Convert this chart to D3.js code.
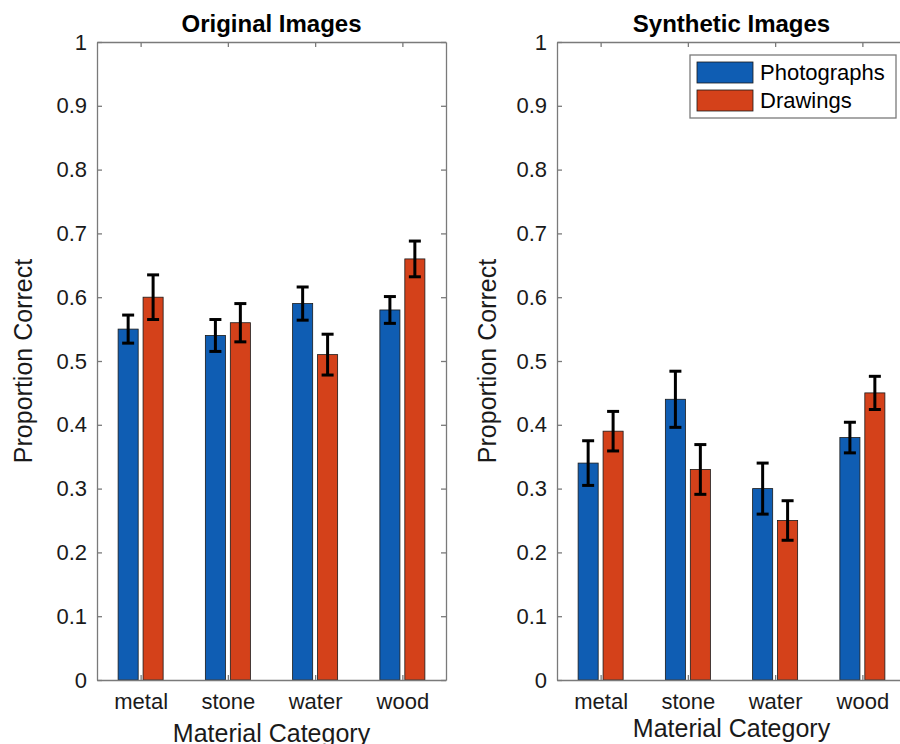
<!DOCTYPE html>
<html>
<head>
<meta charset="utf-8">
<script src="https://cdn.jsdelivr.net/npm/d3@7"></script>
<style>
  body { margin: 0; background: #fff; }
  svg { display: block; font-family: "Liberation Sans", Arial, sans-serif; }
</style>
</head>
<body>
<script>
// data
var categories = ["metal", "stone", "water", "wood"];
var seriesNames = ["Photographs", "Drawings"];
var yTicks = [0, 0.1, 0.2, 0.3, 0.4, 0.5, 0.6, 0.7, 0.8, 0.9, 1];

// Original Images
var origPhoto = [0.55, 0.54, 0.59, 0.58];
var origPhotoErr = [0.022, 0.025, 0.026, 0.021];
var origDraw = [0.60, 0.56, 0.51, 0.66];
var origDrawErr = [0.035, 0.030, 0.032, 0.028];

// Synthetic Images
var synPhoto = [0.34, 0.44, 0.30, 0.38];
var synPhotoErr = [0.035, 0.044, 0.040, 0.024];
var synDraw = [0.39, 0.33, 0.25, 0.45];
var synDrawErr = [0.031, 0.039, 0.031, 0.026];

var colors = ["#0f5db3", "#d4411a"];

var svg = d3.select("body").append("svg")
  .attr("width", 900)
  .attr("height", 744);

function drawPanel(opts) {
  var left = opts.left;
  var width = 349, top = 42, bottom = 680;

  var g = svg.append("g").attr("transform", `translate(${left}, 0)`);

  var x = d3.scaleLinear().domain([0.5, 4.5]).range([0, width]);
  var y = d3.scaleLinear().domain([0, 1]).range([bottom, top]);

  var offsets = [-0.143, 0.143];
  var barW = (x(0.23) - x(0));

  var series = [
    { vals: opts.photo, errs: opts.photoErr },
    { vals: opts.draw, errs: opts.drawErr }
  ];

  // bars
  series.forEach(function(s, si) {
    g.selectAll(null)
      .data(categories)
      .enter()
      .append("rect")
      .attr("x", (d, i) => x(i + 1 + offsets[si]) - barW / 2)
      .attr("y", (d, i) => y(s.vals[i]))
      .attr("width", barW)
      .attr("height", (d, i) => y(0) - y(s.vals[i]))
      .attr("fill", colors[si])
      .attr("stroke", "#1a1a1a")
      .attr("stroke-width", 0.8);
  });

  // axes box with inward ticks (matlab style)
  var axisCol = "#7a7a7a";
  var leftAxis = d3.axisLeft(y).tickValues(yTicks).tickSizeInner(-5).tickSizeOuter(0)
    .tickFormat(d => d === 0 || d === 1 ? d3.format("d")(d) : d3.format(".1f")(d));
  var rightAxis = d3.axisRight(y).tickValues(yTicks).tickSizeInner(-5).tickSizeOuter(0).tickFormat("");
  var bottomAxis = d3.axisBottom(x).tickValues([1, 2, 3, 4]).tickSizeInner(-5).tickSizeOuter(0)
    .tickFormat((d, i) => categories[i]);
  var topAxis = d3.axisTop(x).tickValues([1, 2, 3, 4]).tickSizeInner(-5).tickSizeOuter(0).tickFormat("");

  var axes = [
    g.append("g").call(leftAxis),
    g.append("g").attr("transform", `translate(${width}, 0)`).call(rightAxis),
    g.append("g").attr("transform", `translate(0, ${bottom})`).call(bottomAxis),
    g.append("g").attr("transform", `translate(0, ${top})`).call(topAxis)
  ];
  axes.forEach(function(a) {
    a.attr("font-size", 22).attr("font-family", "'Liberation Sans', Arial, sans-serif");
    a.selectAll("path, line").attr("stroke", axisCol).attr("stroke-width", 1.3);
    a.selectAll("text").attr("fill", "#1a1a1a");
  });
  axes[0].selectAll("text").attr("x", -10);
  axes[2].selectAll("text").attr("y", 13);

  // error bars
  var capW = 6;
  series.forEach(function(s, si) {
    var eg = g.append("g").attr("stroke", "#000").attr("stroke-width", 3);
    categories.forEach(function(c, i) {
      var cx = x(i + 1 + offsets[si]);
      var y1 = y(s.vals[i] + s.errs[i]);
      var y2 = y(s.vals[i] - s.errs[i]);
      eg.append("line").attr("x1", cx).attr("x2", cx).attr("y1", y1).attr("y2", y2);
      eg.append("line").attr("x1", cx - capW).attr("x2", cx + capW).attr("y1", y1).attr("y2", y1);
      eg.append("line").attr("x1", cx - capW).attr("x2", cx + capW).attr("y1", y2).attr("y2", y2);
    });
  });

  // title
  g.append("text")
    .attr("x", width / 2)
    .attr("y", 32)
    .attr("text-anchor", "middle")
    .attr("font-size", 24)
    .attr("font-weight", "bold")
    .attr("fill", "#000")
    .text(opts.title);

  // axis labels
  g.append("text")
    .attr("x", width / 2)
    .attr("y", opts.xLabelY)
    .attr("text-anchor", "middle")
    .attr("font-size", 25)
    .attr("fill", "#1a1a1a")
    .text("Material Category");

  g.append("text")
    .attr("transform", `translate(${opts.yLabelX}, ${(top + bottom) / 2}) rotate(-90)`)
    .attr("text-anchor", "middle")
    .attr("font-size", 25)
    .attr("fill", "#1a1a1a")
    .text("Proportion Correct");

  if (opts.legend) {
    var lg = g.append("g").attr("transform", `translate(${690 - left}, 55)`);
    lg.append("rect")
      .attr("width", 206).attr("height", 63)
      .attr("fill", "#fff").attr("stroke", axisCol).attr("stroke-width", 1.3);
    seriesNames.forEach(function(name, i) {
      lg.append("rect")
        .attr("x", 7).attr("y", 7 + i * 28)
        .attr("width", 56).attr("height", 21)
        .attr("fill", colors[i]).attr("stroke", "#1a1a1a").attr("stroke-width", 0.8);
      lg.append("text")
        .attr("x", 70).attr("y", 25 + i * 28)
        .attr("font-size", 22).attr("fill", "#000")
        .text(name);
    });
  }
}

drawPanel({
  left: 97, title: "Original Images",
  photo: origPhoto, photoErr: origPhotoErr, draw: origDraw, drawErr: origDrawErr,
  xLabelY: 742, yLabelX: -65, legend: false
});
drawPanel({
  left: 557, title: "Synthetic Images",
  photo: synPhoto, photoErr: synPhotoErr, draw: synDraw, drawErr: synDrawErr,
  xLabelY: 737, yLabelX: -61, legend: true
});
</script>
</body>
</html>
